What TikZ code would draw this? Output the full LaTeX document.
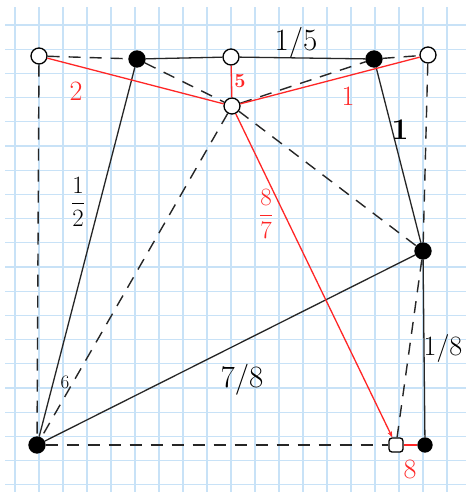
\documentclass[tikz,border=0pt]{standalone}
\usepackage{fontspec}
\usetikzlibrary{arrows.meta}
\definecolor{paperline}{RGB}{200,226,247}
\begin{document}
\begin{tikzpicture}[
    x=1pt, y=-1pt,
    open/.style={circle, draw, line width=1.3pt, fill=white, minimum size=16pt, inner sep=0pt},
    full/.style={circle, draw, line width=1.3pt, fill=black, minimum size=16pt, inner sep=0pt},
    box/.style={rectangle, rounded corners=3pt, draw, line width=1.3pt, fill=white, minimum size=14pt, inner sep=0pt},
    solidline/.style={line width=1.3pt, black!85},
    dashline/.style={line width=1.4pt, black!85, dash pattern=on 12pt off 9pt},
    redline/.style={line width=1.3pt, red!85},
    weight/.style={font=\fontsize{31}{31}\selectfont},
    redweight/.style={font=\fontsize{28}{28}\selectfont, text=red!85}
]
    % Paper
    \useasboundingbox (0,0) rectangle (471,498);
    \fill[white] (0,0) rectangle (471,498);
    \foreach \i in {0,...,18}
        \draw[paperline, line width=1.2pt] (15+24*\i,7) -- (15+24*\i,492);
    \foreach \j in {0,...,19}
        \draw[paperline, line width=1.2pt] (5,25+24.2*\j) -- (466,25+24.2*\j);

    % Top row
    \node[open] (a) at (39,56) {};
    \node[full] (b) at (137,59) {};
    \node[open] (c) at (231,57) {};
    \node[full] (d) at (374,59) {};
    \node[open] (e) at (428,55) {};

    % Middle
    \node[open] (f) at (232,106) {};
    \node[full] (g) at (423,251) {};

    % Bottom row
    \node[full] (h) at (37,445) {};
    \node[box] (i) at (396,445) {};
    \node[full, minimum size=14pt] (j) at (425,445) {};

    % Dashed edges
    \draw[dashline] (a) -- (b);
    \draw[dashline] (d) -- (e);
    \draw[dashline] (a) -- (h);
    \draw[dashline] (e) -- (g);
    \draw[dashline] (b) -- (f);
    \draw[dashline] (f) -- (d);
    \draw[dashline] (f) -- (g);
    \draw[dashline] (f) -- (h);
    \draw[dashline] (g) -- (i);
    \draw[dashline] (h) -- (i);

    % Solid edges
    \draw[solidline] (b) -- (c);
    \draw[solidline] (c) -- (d);
    \draw[solidline] (b) -- (h);
    \draw[solidline] (d) -- (g);
    \draw[solidline] (h) -- (g);
    \draw[solidline] (g) -- (j);

    % Red edges
    \draw[redline] (a) -- (f);
    \draw[redline] (c) -- (f);
    \draw[redline] (f) -- (e);
    \draw[redline, -{Stealth[length=6pt]}] (f) -- (i);
    \draw[redline] (j) -- (i);

    % Weights
    \node[weight] (w1) at (296,43) {1/5};
    \node[weight, font=\fontsize{26}{26}\selectfont] (w2) at (78,202) {$\displaystyle\frac{1}{2}$};
    \node[weight, font=\fontsize{30}{30}\selectfont\bfseries] (w3) at (400,130) {1};
    \node[weight] (w4) at (242,380) {7/8};
    \node[weight, font=\fontsize{28}{28}\selectfont] (w5) at (443,348) {1/8};
    \node[font=\fontsize{19}{19}\selectfont] (w6) at (65,382) {6};
    \node[redweight, font=\fontsize{20}{20}\selectfont\bfseries] (r2) at (240,81) {5};
    \node[redweight] (r1) at (76,91) {2};
    \node[redweight] (r3) at (348,96) {1};
    \node[redweight, font=\fontsize{24}{24}\selectfont] (r4) at (266,214) {$\displaystyle\frac{8}{7}$};
    \node[redweight] (r5) at (410,469) {8};
\end{tikzpicture}
\end{document}
